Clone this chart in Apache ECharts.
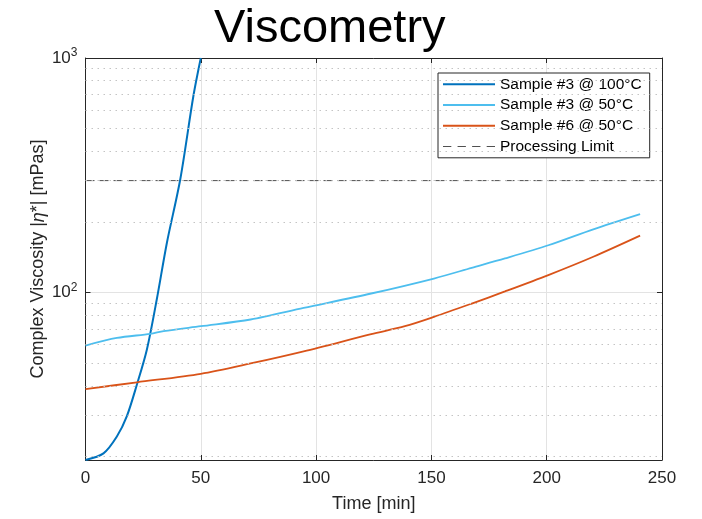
<!DOCTYPE html>
<html>
<head>
<meta charset="utf-8">
<script src="https://cdn.jsdelivr.net/npm/echarts@6/dist/echarts.min.js"></script>
<style>
  html, body { margin: 0; padding: 0; background: #fff; }
  #chart { width: 702px; height: 519px; }
</style>
</head>
<body>
<div id="chart"></div>
<script>
// ---- Data ----
const seriesNames = ['Sample #3 @ 100°C', 'Sample #3 @ 50°C', 'Sample #6 @ 50°C', 'Processing Limit'];

const timeS3_100 = [0, 7.8, 13.6, 17.9, 22.3, 26.6, 30.9, 35.3, 41.1, 46.8, 50.0];
const viscS3_100 = [19.3, 20.6, 24.3, 29.6, 40.5, 57, 93.3, 163, 304, 690, 1000];

const timeS3_50 = [0, 13.6, 28.1, 33.9, 50, 71.6, 94.6, 123.9, 151.1, 167.5, 181.9, 200.7, 220.2, 240.5];
const viscS3_50 = [59.4, 64.0, 66.6, 68.4, 71.8, 76.7, 85.9, 99.0, 114.7, 127.4, 139.7, 159.0, 186.0, 216.0];

const timeS6_50 = [0, 22.3, 50, 71.6, 94.6, 123.9, 138.5, 151.1, 167.5, 181.9, 200.7, 220.2, 240.5];
const viscS6_50 = [38.7, 41.4, 45.0, 49.8, 56.1, 66.4, 71.8, 78.7, 89.7, 101.0, 118.6, 142.0, 174.7];

const limitTime = [0, 250];
const limitValue = 300;

const xMin = 0, xMax = 250, xStep = 50;
const yMin = 19.3, yMax = 1000;
const yMinorGrid = [20, 30, 40, 50, 60, 70, 80, 90, 200, 300, 400, 500, 600, 700, 800, 900];

// ---- Build ----
const zip = (xs, ys) => xs.map((x, i) => [x, ys[i]]);
const FONT = "'Liberation Sans', Arial, Helvetica, sans-serif";
const AX = '#262626';
const ICON_SOLID = 'path://M0,0H52V2H0Z';
const ICON_DASH = 'path://M0,0H8V1H0Z M14,0H22V1H14Z M28,0H36V1H28Z M42,0H50V1H42Z';

const chart = echarts.init(document.getElementById('chart'), null, { renderer: 'canvas' });

const yLabelFormatter = (v) => {
  const l = Math.log10(v);
  const e = Math.round(l);
  if (Math.abs(l - e) < 1e-6) return '10{sup|' + e + '}';
  return '';
};

const option = {
  backgroundColor: '#fff',
  animation: false,
  textStyle: { fontFamily: FONT },
  title: {
    text: 'Viscometry',
    left: 214, top: 6, padding: 0,
    textStyle: { fontFamily: FONT, fontSize: 47, fontWeight: 'normal', color: '#000' }
  },
  grid: { left: 85.5, right: 40, top: 58, bottom: 59, containLabel: false },
  legend: {
    orient: 'vertical',
    left: 438, top: 73,
    padding: [1, 8, 1, 5],
    itemWidth: 52, itemHeight: 2, itemGap: 0,
    borderColor: AX, borderWidth: 1, backgroundColor: '#fff',
    textStyle: { fontFamily: FONT, fontSize: 15.5, color: '#000', lineHeight: 20.7 },
    data: [
      { name: seriesNames[0], icon: ICON_SOLID },
      { name: seriesNames[1], icon: ICON_SOLID },
      { name: seriesNames[2], icon: ICON_SOLID },
      { name: seriesNames[3], icon: ICON_DASH }
    ]
  },
  xAxis: [{
    type: 'value', min: xMin, max: xMax, interval: xStep,
    name: 'Time [min]', nameLocation: 'middle', nameGap: 35, nameMoveOverlap: false,
    nameTextStyle: { fontFamily: FONT, fontSize: 18, color: AX },
    axisLine: { show: true, onZero: false, lineStyle: { color: AX, width: 1 } },
    axisTick: { show: true, inside: true, length: 5, lineStyle: { color: AX } },
    axisLabel: { fontFamily: FONT, fontSize: 17, color: AX, margin: 10 },
    splitLine: { show: true, lineStyle: { color: '#e3e3e3', width: 1 } }
  }, {
    type: 'value', min: xMin, max: xMax, interval: xStep, position: 'top',
    axisLine: { show: true, onZero: false, lineStyle: { color: AX, width: 1 } },
    axisTick: { show: true, inside: true, length: 5, lineStyle: { color: AX } },
    axisLabel: { show: false }, splitLine: { show: false }
  }],
  yAxis: [{
    type: 'log', logBase: 10, min: yMin, max: yMax,
    name: 'Complex Viscosity |{i|η}*| [mPas]', nameLocation: 'middle', nameGap: 38, nameMoveOverlap: false,
    nameTextStyle: {
      fontFamily: FONT, fontSize: 18, color: AX,
      rich: { i: { fontFamily: FONT, fontSize: 18, fontStyle: 'italic', color: AX } }
    },
    axisLine: { show: true, onZero: false, lineStyle: { color: AX, width: 1 } },
    axisTick: { show: true, inside: true, length: 5, lineStyle: { color: AX } },
    axisLabel: {
      fontFamily: FONT, fontSize: 17, color: AX, margin: 8,
      formatter: yLabelFormatter,
      rich: { sup: { fontFamily: FONT, fontSize: 12, color: AX, verticalAlign: 'top', padding: [0, 0, 10, 0] } }
    },
    splitLine: { show: true, lineStyle: { color: '#e3e3e3', width: 1 } }
  }, {
    type: 'log', logBase: 10, min: yMin, max: yMax, position: 'right',
    axisLine: { show: true, onZero: false, lineStyle: { color: AX, width: 1 } },
    axisTick: { show: true, inside: true, length: 5, lineStyle: { color: AX } },
    axisLabel: { show: false }, splitLine: { show: false }
  }],
  series: [
    {
      name: seriesNames[3], type: 'line', data: zip(limitTime, [limitValue, limitValue]),
      symbol: 'none', silent: true, z: 1,
      lineStyle: { color: '#505050', width: 1, type: [9, 5] },
      itemStyle: { color: '#505050' },
      markLine: {
        silent: true, symbol: 'none', label: { show: false },
        lineStyle: { color: '#c4c4c4', width: 1, type: [1.5, 4.5] },
        data: yMinorGrid.map(v => ({ yAxis: v }))
      }
    },
    {
      name: seriesNames[0], type: 'line', data: zip(timeS3_100, viscS3_100),
      symbol: 'none', smooth: 0.3, z: 3,
      lineStyle: { color: '#0072BD', width: 2 }, itemStyle: { color: '#0072BD' }
    },
    {
      name: seriesNames[1], type: 'line', data: zip(timeS3_50, viscS3_50),
      symbol: 'none', smooth: 0.3, z: 3,
      lineStyle: { color: '#4DBEEE', width: 1.8 }, itemStyle: { color: '#4DBEEE' }
    },
    {
      name: seriesNames[2], type: 'line', data: zip(timeS6_50, viscS6_50),
      symbol: 'none', smooth: 0.3, z: 3,
      lineStyle: { color: '#D95319', width: 1.8 }, itemStyle: { color: '#D95319' }
    }
  ]
};
chart.setOption(option);
</script>
</body>
</html>
